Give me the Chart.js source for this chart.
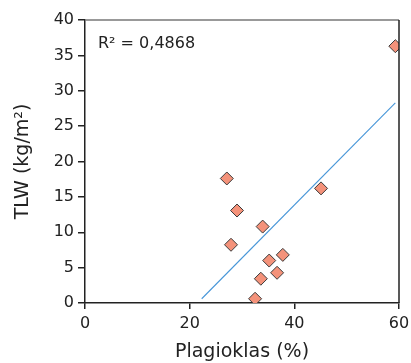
<!DOCTYPE html>
<html><head><meta charset="utf-8">
<script src="https://cdn.jsdelivr.net/npm/chart.js@4"></script>
<style>html,body{margin:0;padding:0;background:#fff;}#c{display:block;}</style>
</head><body>
<div style="width:411px;height:363px"><canvas id="c" width="411" height="363"></canvas></div>
<script>
const plagioklas = [27.1, 29.05, 33.95, 27.9, 37.8, 35.2, 36.7, 33.6, 32.5, 45.1, 59.3];
const tlw = [17.6, 13.07, 10.8, 8.23, 6.8, 6.0, 4.27, 3.43, 0.6, 16.2, 36.3];
const trendX = [22.3, 59.3];
const trendY = [0.6, 28.3];
const xTicks = [0, 20, 40, 60];
const yTicks = [0, 5, 10, 15, 20, 25, 30, 35, 40];
const r2Label = 'R\u00B2 = 0,4868';
const xTitle = 'Plagioklas (%)';
const yTitle = 'TLW (kg/m\u00B2)';

const FONT = "'DejaVu Sans', sans-serif";

const framePlugin = {
  id: 'frame',
  afterDraw(chart) {
    const {ctx, chartArea: a} = chart;
    ctx.save();
    ctx.lineWidth = 1.5;
    ctx.strokeStyle = '#777';
    ctx.beginPath(); ctx.moveTo(a.left, a.top); ctx.lineTo(a.right, a.top); ctx.stroke();
    ctx.strokeStyle = '#222';
    ctx.beginPath(); ctx.moveTo(a.right, a.top); ctx.lineTo(a.right, a.bottom); ctx.stroke();
    ctx.fillStyle = '#222';
    ctx.font = '16px ' + FONT;
    ctx.textBaseline = 'alphabetic';
    ctx.fillText(r2Label, a.left + 13, a.top + 28);
    ctx.restore();
  }
};

new Chart(document.getElementById('c'), {
  type: 'scatter',
  data: {
    datasets: [
      {
        data: plagioklas.map((x, i) => ({x, y: tlw[i]})),
        pointStyle: 'rectRot',
        pointRadius: 6.5,
        pointHoverRadius: 6.5,
        backgroundColor: '#F4927A',
        borderColor: '#3a3a3a',
        borderWidth: 1,
        order: 1
      },
      {
        type: 'line',
        data: trendX.map((x, i) => ({x, y: trendY[i]})),
        borderColor: '#4796d8',
        borderWidth: 1.1,
        pointRadius: 0,
        fill: false,
        order: 2
      }
    ]
  },
  options: {
    responsive: false,
    animation: false,
    devicePixelRatio: 1,
    layout: {padding: {top: 20, right: 0, left: 0, bottom: 0}},
    plugins: {legend: {display: false}, tooltip: {enabled: false}},
    scales: {
      x: {
        type: 'linear', min: 0, max: 60,
        afterBuildTicks(s) { s.ticks = xTicks.map(v => ({value: v})); },
        afterFit(s) { s.height = 60; s.paddingRight = 12; },
        grid: {drawOnChartArea: false, tickLength: 6, color: '#222', lineWidth: 1.5},
        border: {color: '#222', width: 1.5},
        ticks: {color: '#222', font: {family: FONT, size: 16}, padding: 5, maxRotation: 0},
        title: {display: true, text: xTitle, color: '#222', font: {family: FONT, size: 19}, padding: {top: 3, bottom: 0}}
      },
      y: {
        type: 'linear', min: 0, max: 40,
        afterBuildTicks(s) { s.ticks = yTicks.map(v => ({value: v})); },
        afterFit(s) { s.width = 85; },
        grid: {drawOnChartArea: false, tickLength: 7, color: '#222', lineWidth: 1.5},
        border: {color: '#222', width: 1.5},
        ticks: {color: '#222', font: {family: FONT, size: 16}, padding: 4},
        title: {display: true, text: yTitle, color: '#222', font: {family: FONT, size: 19}, padding: {top: 12, bottom: 0}}
      }
    }
  },
  plugins: [framePlugin]
});
</script>
</body></html>
